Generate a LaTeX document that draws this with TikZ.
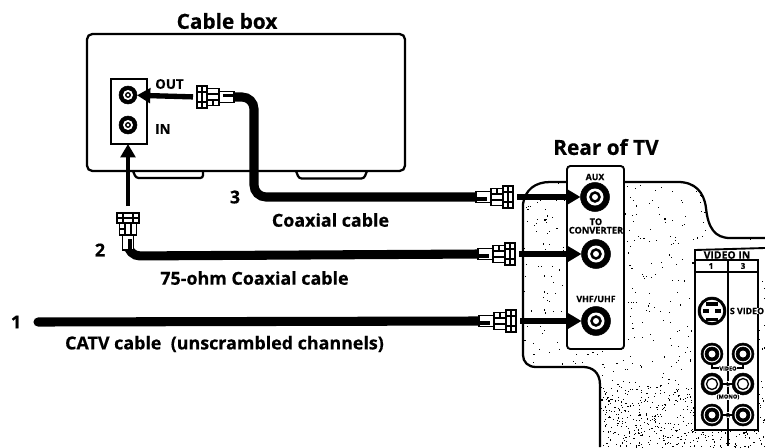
\documentclass[tikz,border=0pt]{standalone}
\usepackage{fontspec}
\setmainfont{Open Sans}[BoldFeatures={FakeBold=0.5}]
\usetikzlibrary{arrows.meta}
\def\pxu{0.75pt}
\tikzset{
  x=0.75pt,y=-0.75pt,
  outline/.style={line width=1.7pt,line join=round},
  cable/.style={line width=6.8pt,line cap=round,rounded corners=9pt,black},
  signal/.style={line width=4pt,black,-{Triangle[length=10pt,width=11pt]}},
  plugpart/.style={draw=black,fill=white,line width=1.1pt},
  title/.style={font=\bfseries\fontsize{15.6}{15.6}\selectfont,inner sep=0pt},
  lbl/.style={font=\bfseries\fontsize{13.4}{13.4}\selectfont,inner sep=0pt},
  small/.style={font=\bfseries\fontsize{10}{10}\selectfont,inner sep=0pt},
  tiny/.style={font=\bfseries\fontsize{6.6}{6.6}\selectfont,inner sep=0pt},
  micro/.style={font=\bfseries\fontsize{4.2}{4.2}\selectfont,inner sep=0pt},
  panel/.style={draw=black,fill=white,line width=1.4pt,rounded corners=2.5pt,inner sep=0pt,outer sep=0pt},
  disc/.style={circle,fill=black,draw=black,inner sep=0pt,outer sep=0pt},
  whitedisc/.style={circle,fill=white,inner sep=0pt},
  ring/.style={circle,draw=black,fill=white,line width=1pt,inner sep=0pt},
}
% a coax plug whose tip is at (#1,#2), pointing along angle #3
\newcommand{\coaxplug}[3]{%
  \begin{scope}[shift={(#1,#2)},rotate=#3]
    \filldraw[plugpart] (-37,-5.5) rectangle (-21,5.5);
    \fill[black] (-37,0) rectangle (-26,3.5);
    \filldraw[plugpart] (-22,-8.5) rectangle (-9,8.5);
    \draw[line width=.8pt] (-22,-3) -- (-9,-3) (-22,3) -- (-9,3) (-16,-8) -- (-16,-3);
    \filldraw[plugpart] (-10,-11) rectangle (0,11);
    \draw[line width=.9pt] (-10,-5) -- (0,-5) (-10,5) -- (0,5) (-5,-11) -- (-5,11);
  \end{scope}}
\newcommand{\bigjack}[3]{%
  \node[disc,minimum size=29*\pxu] (#1) at (#2,#3) {};
  \node[whitedisc,minimum size=17*\pxu] (#1w) at (#2,#3) {};
  \node[disc,minimum size=11*\pxu] (#1k) at (#2,#3) {};
  \node[whitedisc,minimum size=6*\pxu] (#1c) at (#2,#3) {};}
\newcommand{\boxjack}[3]{%
  \node[disc,minimum size=18*\pxu] (#1) at (#2,#3) {};
  \node[whitedisc,minimum size=10*\pxu] (#1w) at (#2,#3) {};
  \node[ring,minimum size=4.5*\pxu] (#1c) at (#2,#3) {};}
\newcommand{\rca}[3]{%
  \node[disc,minimum size=22*\pxu] (#1) at (#2,#3) {};
  \node[whitedisc,minimum size=17*\pxu] (#1w) at (#2,#3) {};
  \node[disc,minimum size=14*\pxu] (#1k) at (#2,#3) {};
  \node[whitedisc,minimum size=7*\pxu] (#1c) at (#2,#3) {};}
\newcommand{\rcaring}[3]{%
  \node[disc,minimum size=22*\pxu] (#1) at (#2,#3) {};
  \node[ring,minimum size=17*\pxu] (#1w) at (#2,#3) {};
  \node[ring,minimum size=11*\pxu] (#1c) at (#2,#3) {};}
\begin{document}
\begin{tikzpicture}
\useasboundingbox (0,0) rectangle (765,447);
\fill[white] (0,0) rectangle (765,447);
\clip (0,0) rectangle (765,447);

% --- Rear of TV: body with stipple
\begin{scope}
  \clip (600,450) -- (600,385) .. controls (600,372) and (592,367) .. (583,367)
        -- (536,367) .. controls (528,367) and (523,362) .. (523,355)
        -- (523,204) .. controls (525,190) and (535,182) .. (550,182)
        -- (678,182) .. controls (695,182) and (704,192) .. (706,208)
        .. controls (708,228) and (715,238) .. (730,238) -- (770,238) -- (770,450) -- cycle;
  \pgfmathsetseed{4711}
  \foreach \i in {1,...,700}{
    \pgfmathsetmacro{\xa}{520+rnd*250}
    \pgfmathsetmacro{\ya}{180+rnd*270}
    \fill[black] (\xa,\ya) rectangle ++(1.1,1.1);
  }
  \foreach \i in {1,...,450}{
    \pgfmathsetmacro{\xa}{600+rnd*165}
    \pgfmathsetmacro{\ya}{385+rnd*62}
    \fill[black] (\xa,\ya) rectangle ++(1.1,1.1);
  }
\end{scope}
\draw[outline] (600,447) -- (600,385) .. controls (600,372) and (592,367) .. (583,367)
        -- (536,367) .. controls (528,367) and (523,362) .. (523,355)
        -- (523,204) .. controls (525,190) and (535,182) .. (550,182)
        -- (678,182) .. controls (695,182) and (704,192) .. (706,208)
        .. controls (708,228) and (715,238) .. (730,238) -- (765,238);

% --- Antenna panel on the TV
\node[panel,minimum width=57*\pxu,minimum height=183*\pxu] (tvpanel) at (595.5,257.5) {};
\node[tiny] (auxlabel) at (595,177) {AUX};
\node[tiny,align=center,font=\bfseries\fontsize{6.9}{6.9}\selectfont] (convlabel) at (596,226) {TO\\[-.5pt]CONVERTER};
\node[tiny] (vhflabel) at (596,299) {VHF/UHF};
\bigjack{aux}{595}{197}
\bigjack{conv}{596}{254}
\bigjack{vhf}{596}{321}

% --- VIDEO IN panel
\node[draw=black,fill=white,line width=1.4pt,minimum width=63*\pxu,minimum height=180*\pxu,inner sep=0pt,outer sep=0pt] (videopanel) at (726.5,340) {};
\fill[white] (690,240) rectangle (765,259);
\draw[line width=1.4pt] (695,259) -- (695,250) -- (765,248);
\draw[line width=1pt] (695,260) -- (758,260) (695,272) -- (758,272);
\draw[line width=1pt] (728,260) -- (728,446);
\node[tiny,font=\bfseries\fontsize{7.8}{7.8}\selectfont] (vin) at (727,255) {VIDEO IN};
\node[tiny,font=\bfseries\fontsize{6}{6}\selectfont] (vone) at (711,266) {1};
\node[tiny,font=\bfseries\fontsize{6}{6}\selectfont] (vthree) at (743,266) {3};
\node[disc,minimum size=28*\pxu] (svid) at (712,311) {};
\node[ring,minimum size=24*\pxu] (svidi) at (712,311) {};
\fill[black] (706,302) rectangle (718,306);
\fill[black] (703,309) rectangle (709,313);
\fill[black] (715,309) rectangle (721,313);
\fill[black] (706,318) rectangle (718,321);
\node[fill=white,inner sep=.8pt,tiny] (svlabel) at (747,311) {S VIDEO};
\rca{va}{712}{354}
\rca{vb}{743}{354}
\rcaring{la}{712}{384}
\rcaring{lb}{743}{384}
\rca{ra}{712}{415}
\rca{rb}{743}{415}
\draw[line width=.9pt] (712,365) -- (712,368) -- (743,368) -- (743,365);
\node[micro,fill=white,inner sep=.6pt] (vidl) at (728,368.5) {VIDEO};
\node[micro,fill=white,inner sep=.6pt] (ll) at (728,384) {L};
\node[micro,fill=white,inner sep=.6pt] (monol) at (728,397) {(MONO)};
\node[micro,fill=white,inner sep=.6pt] (rl) at (728,415) {R};
\draw[line width=.9pt] (723,384) -- (732,384) (723,415) -- (732,415);

% --- Cable box
\draw[outline,rounded corners=2pt] (133,171) -- (136,178) -- (203,178) -- (203,171);
\draw[outline,rounded corners=2pt] (296,171) -- (299,178.500) -- (364,178.500) -- (367,171);
\node[draw=black,fill=white,line width=1.7pt,rounded corners=4pt,inner sep=0pt,outer sep=0pt,
      minimum width=318*\pxu,minimum height=137*\pxu] (cablebox) at (246,102.500) {};
\node[draw=black,fill=white,line width=1pt,inner sep=0pt,outer sep=0pt,
      minimum width=36*\pxu,minimum height=65*\pxu] (boxpanel) at (129,111.500) {};
\boxjack{outjack}{128}{95}
\boxjack{injack}{128}{125}
\node[small,anchor=west] (outl) at (155,84) {OUT};
\node[small,anchor=west] (inl) at (155,129) {IN};

% --- Cables, between the rear ends of the plugs
\coordinate (pA) at (513,197);  \coordinate (pAb) at (478,197);
\coordinate (pB) at (515,254);  \coordinate (pBb) at (480,254);
\coordinate (pC) at (516,321);  \coordinate (pCb) at (481,321);
\coordinate (pD) at (197,97);   \coordinate (pDb) at (232,97);
\coordinate (pE) at (128,213);  \coordinate (pEb) at (128,248);
\coordinate (c3a) at (254,97);
\coordinate (c3b) at (254,197);
\coordinate (c2a) at (128,256);
\coordinate (cstart) at (38,322);
\draw[cable] (pDb) -- (c3a) -- (c3b) -- (pAb);
\draw[cable] (pEb) -- (c2a) -- (pBb);
\draw[cable,rounded corners=0pt] (cstart) -- (pCb);
\coaxplug{197}{97}{180}
\coaxplug{128}{213}{90}
\coaxplug{513}{197}{0}
\coaxplug{515}{254}{0}
\coaxplug{516}{321}{0}

% --- Signal arrows
\draw[signal,shorten <=3pt] (pA) -- (aux);
\draw[signal,shorten <=3pt] (pB) -- (conv);
\draw[signal,shorten <=3pt] (pC) -- (vhf);
\draw[signal,shorten <=3pt] (pD) -- (outjack);
\coordinate (inarrowstart) at (128,206);
\draw[signal,line width=3.6pt] (inarrowstart) -- (boxpanel.south -| inarrowstart);

% --- Labels
\node[title] (tcb) at (227,21) {Cable box};
\node[title] (ttv) at (606,147) {Rear of TV};
\node[lbl] (l3) at (235,197) {3};
\node[lbl] (l2) at (100,250) {2};
\node[lbl] (l1) at (16,322) {1};
\node[lbl] (lc3) at (330.500,220) {Coaxial cable};
\node[lbl] (lc2) at (254.500,278) {75-ohm Coaxial cable};
\node[lbl] (lc1) at (224.500,344) {CATV cable\ \ (unscrambled channels)};
\end{tikzpicture}
\end{document}
